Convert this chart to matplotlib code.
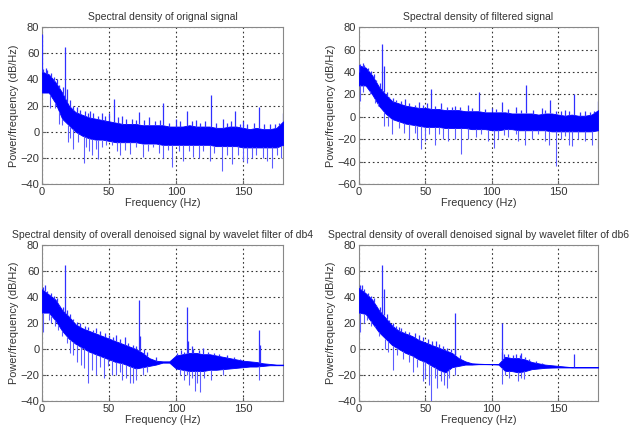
import numpy as np
import matplotlib
matplotlib.use('Agg')
import matplotlib.pyplot as plt

plt.rcParams['font.family'] = ['Liberation Sans', 'DejaVu Sans']

# knot frequencies of the dense noise band (Hz)
freq = np.arange(0, 181, 5)

titles = ['Spectral density of orignal signal',
          'Spectral density of filtered signal',
          'Spectral density of overall denoised signal by wavelet filter of db4',
          'Spectral density of overall denoised signal by wavelet filter of db6']

# upper / lower edge of the solid band, dB/Hz, read at 0,5,...,180 Hz
hi_orig = [46, 44, 38, 30, 20, 15, 13, 11, 10, 9, 8, 7, 6, 6, 6, 5, 5, 5, 5,
           4, 4, 4, 5, 4, 4, 4, 3, 3, 4, 4, 3, 2, 3, 2, 2, 3, 8]
lo_orig = [30, 30, 22, 10, 5, 0, -3, -5, -6, -6, -7, -8, -8, -8, -8, -9, -9,
           -9, -10, -10, -10, -10, -10, -10, -10, -10, -11, -11, -11, -11,
           -12, -12, -12, -12, -12, -12, -10]
hi_filt = [46, 44, 37, 27, 20, 14, 12, 10, 9, 8, 8, 7, 7, 6, 6, 6, 5, 5, 5,
           4, 4, 4, 4, 3, 3, 3, 3, 2, 3, 3, 2, 1, 2, 1, 1, 2, 6]
lo_filt = [28, 28, 20, 10, 3, -2, -4, -6, -7, -8, -9, -9, -9, -10, -10, -10,
           -10, -11, -11, -11, -12, -12, -11, -11, -12, -12, -12, -12, -12,
           -13, -13, -13, -13, -13, -13, -13, -12]
hi_db4 = [46, 42, 38, 30, 25, 19, 16, 14, 12, 10, 8, 6, 4, 2, 0, -3, -7, -9,
          -9.5, -9.5, -5, -4, -3, -3, -4, -4, -5, -6, -7, -8, -9, -9.5, -10,
          -11, -11.5, -12, -12]
lo_db4 = [28, 28, 22, 14, 8, 4, 1, -2, -4, -6, -8, -10, -11, -13, -15, -14,
          -13, -12, -10.5, -10.5, -15, -16, -17, -17, -17, -16, -16, -15.5,
          -15, -14.5, -14, -13.5, -13.5, -13, -12.5, -12.5, -12.5]
hi_db6 = [47, 43, 38, 30, 24, 18, 14, 12, 10, 7, 5, 3, 1, -1, -3, -7, -9.5,
          -11, -11.3, -11.5, -11.5, -11.5, -6, -7, -7, -8, -10, -11, -12,
          -12.5, -13, -13.5, -14, -14, -14, -14, -14]
lo_db6 = [28, 27, 20, 13, 8, 3, 0, -3, -5, -8, -10, -13, -16, -18, -14, -13,
          -12, -12, -11.7, -11.7, -11.8, -12, -17, -17, -18, -17, -15.5, -15,
          -14.5, -14.3, -14.2, -14.2, -14.2, -14.2, -14.2, -14.2, -14.2]

# narrow peaks (tones and small noise bursts): frequency (Hz), top (dB/Hz)
pk_f_orig = [0.3, 3, 17.5, 18.5, 36, 45, 54, 60, 72, 80, 90, 100, 108, 115,
             126, 135, 144, 150, 162, 170, 179.8,
             1, 4, 7, 9, 11, 13, 16, 21, 23, 26, 28, 32, 34, 38, 42, 47, 50,
             57, 63, 67, 70, 76, 84, 88, 95, 103, 112, 118, 122, 130, 138,
             141, 148, 153, 158, 166, 174, 177]
pk_v_orig = [75, 49, 65, 33, 16, 14, 25, 12, 15, 11, 22, 10, 16, 9, 28, 10,
             16, 8, 19, 6, 14,
             48, 47, 45, 42, 40, 36, 34, 24, 20, 19, 17, 16, 14, 14, 12, 12,
             14, 11, 10, 10, 9, 9, 8, 9, 7, 8, 8, 7, 8, 7, 7, 8, 6, 6, 7, 6,
             6, 7]
pk_f_filt = [0.3, 3, 17.5, 18.5, 35, 45, 54, 62, 72, 82, 90, 100, 108, 118,
             126, 138, 144, 155, 162, 170, 179.8,
             1, 4, 7, 9, 11, 13, 16, 21, 23, 26, 28, 32, 38, 42, 48, 51, 57,
             66, 70, 76, 85, 95, 103, 112, 122, 131, 140, 148, 152, 158, 166,
             174, 177]
pk_v_filt = [40, 48, 65, 45, 16, 13, 25, 12, 10, 11, 22, 8, 13, 9, 28, 8, 15,
             6, 20, 5, 14,
             47, 46, 44, 41, 38, 33, 30, 22, 18, 17, 15, 14, 12, 11, 11, 12,
             10, 9, 9, 9, 8, 7, 7, 7, 6, 6, 6, 5, 5, 5, 4, 4, 5]
pk_f_db4 = [2, 17.5, 18.5, 40, 47, 55, 62, 72.5, 73, 85, 108, 108.7, 112,
            120, 162, 162.5,
            1, 4, 7, 9, 11, 13, 16, 21, 23, 26, 28, 32, 34, 38, 43, 50, 53,
            58, 64, 68, 70, 76, 78, 101, 104, 106, 113, 117, 124, 128, 132,
            138, 143, 148, 154]
pk_v_db4 = [49, 65, 30, 16, 12, 11, 9, 38, 10, -6, 32, 6, 2, 1, 15, 3,
            48, 45, 43, 41, 39, 34, 32, 27, 23, 21, 20, 18, 17, 15, 14, 11, 9,
            8, 5, 3, 2, 0, -2, -3, -1, -2, 0, -1, -2, -3, -4, -5, -6, -8, -9]
pk_f_db6 = [2, 17.5, 18.5, 30, 35, 52, 58, 72, 72.5, 107.5, 108, 122, 162,
            1, 4, 7, 9, 11, 13, 16, 21, 23, 26, 28, 32, 38, 42, 45, 48, 55,
            60, 63, 66, 69, 76, 109, 112, 116, 118, 121, 125, 128, 133, 138]
pk_v_db6 = [49, 65, 46, 17, 14, 8, 6, 28, 0, 20, -2, -3, -3.5,
            49, 46, 43, 41, 39, 34, 32, 27, 22, 20, 18, 16, 13, 12, 11, 9, 6,
            4, 2, 1, 0, -5, -4, -4, -5, -4, -5, -6, -8, -9, -11]

# deep narrow dips: frequency (Hz) and bottom value (dB/Hz)
dp_f_orig = [6, 10, 13, 15, 19.5, 21, 23, 27, 31, 33, 35, 37, 40, 42, 45, 48,
             52, 56, 58, 62, 66, 70, 75, 79, 83, 87, 90, 94, 97, 102, 105,
             110, 113, 117, 120, 125, 128, 134, 138, 142, 146, 150, 153, 157,
             160, 165, 168, 172, 175, 178]
dp_v_orig = [18, 18, 6, 5, -8, -5, -13, -8, -24, -12, -15, -18, -13, -21, -12,
             -10, -10, -15, -18, -14, -17, -12, -19, -15, -12, -16, -20, -14,
             -27, -15, -22, -15, -19, -20, -15, -22, -16, -30, -18, -25, -18,
             -22, -24, -20, -18, -20, -22, -28, -18, -20]
dp_f_filt = [0.5, 3, 8, 12, 14, 19, 22, 25, 30, 34, 38, 42, 44, 47, 50, 53,
             57, 60, 63, 67, 72, 77, 82, 88, 92, 97, 102, 105, 109, 112, 118,
             120, 125, 130, 135, 140, 143, 148, 152, 155, 158, 160, 165, 170,
             175, 179.8]
dp_v_filt = [14, 22, 20, 12, 10, -8, -8, -15, -10, -14, -20, -14, -20, -29,
             -22, -15, -25, -15, -20, -22, -20, -33, -20, -18, -15, -22, -28,
             -20, -16, -18, -15, -22, -25, -20, -15, -22, -25, -44, -20, -17,
             -25, -26, -20, -22, -25, -28]
dp_f_db4 = [0.5, 5, 7, 10, 12, 15, 19, 21, 23, 26, 29, 31, 34, 37, 40, 43,
            46, 49, 52, 55, 58, 60, 63, 66, 68, 70, 73, 75, 78, 103, 106, 108,
            110, 112, 114, 116, 118, 121, 126, 135, 162]
dp_v_db4 = [13, 22, 20, 18, 15, 10, 5, -3, -5, -10, -12, -15, -26, -16, -20,
            -14, -22, -13, -20, -20, -18, -24, -22, -26, -26, -24, -15, -20,
            -18, -20, -24, -20, -28, -22, -32, -26, -33, -22, -24, -20, -24]
dp_f_db6 = [0.5, 4, 6, 9, 12, 15, 20, 22, 26, 29, 33, 38, 41, 44, 48, 50, 53,
            54.5, 57, 59, 62, 64, 66, 68, 72, 107.5, 110, 113, 120, 122, 124]
dp_v_db6 = [13, 20, 22, 18, 18, 10, 0, -2, -16, -5, -8, -10, -18, -14, -25,
            -22, -28, -40, -22, -30, -25, -28, -30, -22, -20, -27, -20, -22,
            -25, -22, -23]

panels = [
    (hi_orig, lo_orig, pk_f_orig, pk_v_orig, dp_f_orig, dp_v_orig, (-40, 80)),
    (hi_filt, lo_filt, pk_f_filt, pk_v_filt, dp_f_filt, dp_v_filt, (-60, 80)),
    (hi_db4, lo_db4, pk_f_db4, pk_v_db4, dp_f_db4, dp_v_db4, (-40, 80)),
    (hi_db6, lo_db6, pk_f_db6, pk_v_db6, dp_f_db6, dp_v_db6, (-40, 80)),
]

rects = [[0.0664, 0.574, 0.381, 0.363],
         [0.567, 0.574, 0.378, 0.363],
         [0.0664, 0.0718, 0.381, 0.361],
         [0.567, 0.0718, 0.378, 0.361]]

fig = plt.figure(figsize=(6.33, 4.32), dpi=100)
tc = '#333333'
for i in range(0, 4):
    hi, lo, pf, pv, df, dv, yl = panels[i]
    ax = fig.add_axes(rects[i])
    ax.fill_between(freq, lo, hi, color='#0000ff', lw=0.6, zorder=3)
    # peaks rise from the top edge, dips fall from the bottom edge
    top = np.interp(pf, freq, hi)
    ax.vlines(pf, top, pv, color='#3030ff', lw=0.9, zorder=3)
    bot = np.interp(df, freq, lo)
    ax.vlines(df, dv, bot, color='#5c5cff', lw=0.8, zorder=3)

    ax.set_xlim(0, 180)
    ax.set_ylim(yl)
    ax.set_xticks([0, 50, 100, 150])
    ax.set_yticks(np.arange(yl[0], yl[1] + 1, 20))
    ax.grid(True, ls=(0, (1.5, 2.5)), color='#333333', lw=0.8)
    ax.set_axisbelow(True)
    ax.tick_params(direction='in', length=3, labelsize=8, labelcolor=tc,
                   color='#666666', pad=2)
    for s in ax.spines.values():
        s.set_color('#888888')
        s.set_linewidth(0.8)
    ax.set_title(titles[i], fontsize=7.5, color=tc, pad=5)
    ax.set_xlabel('Frequency (Hz)', fontsize=7.8, color=tc, labelpad=1)
    ax.set_ylabel('Power/frequency (dB/Hz)', fontsize=7.8, color=tc,
                  labelpad=1)

fig.savefig('out.png', dpi=100, facecolor='white')
